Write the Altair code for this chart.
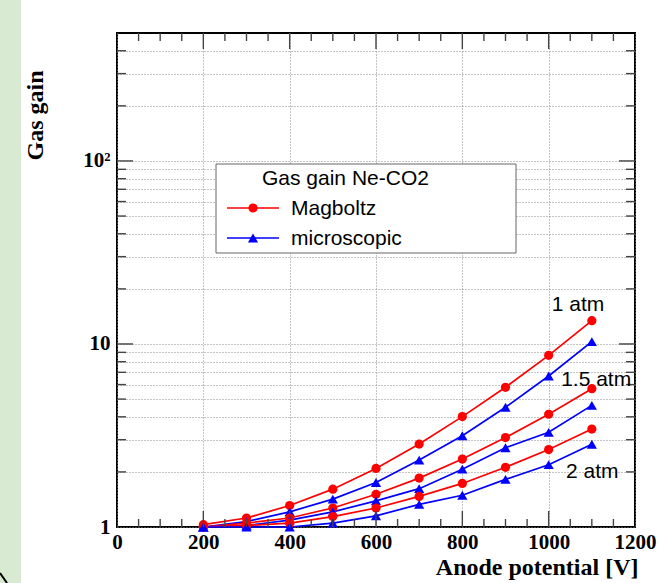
import altair as alt
import pandas as pd

# ---------------- data ----------------
V = [200, 300, 400, 500, 600, 700, 800, 900, 1000, 1100]
mag_1atm = [1.03, 1.12, 1.31, 1.61, 2.09, 2.84, 4.01, 5.80, 8.67, 13.4]
mic_1atm = [1.00, 1.07, 1.21, 1.42, 1.75, 2.32, 3.15, 4.51, 6.68, 10.3]
mag_15atm = [1.00, 1.05, 1.12, 1.27, 1.51, 1.85, 2.35, 3.08, 4.13, 5.70]
mic_15atm = [1.00, 1.02, 1.09, 1.21, 1.39, 1.62, 2.07, 2.71, 3.29, 4.62]
mag_2atm = [1.00, 1.02, 1.05, 1.14, 1.27, 1.47, 1.73, 2.12, 2.65, 3.43]
mic_2atm = [1.00, 1.00, 1.00, 1.05, 1.15, 1.33, 1.49, 1.82, 2.19, 2.83]

models = ["Magboltz", "microscopic"]
model_colors = ["#ff0000", "#0000ff"]
model_shapes = ["circle", "triangle-up"]
model_sizes = [85, 105]

press_labels = ["1 atm", "1.5 atm", "2 atm"]
press_label_x = [1068, 1110, 1101]
press_label_y = [16.3, 6.36, 2.0]

x_label_values = [0, 200, 400, 600, 800, 1000, 1200]
x_major_ticks = [200, 400, 600, 800, 1000]
x_minor_ticks = [v for v in range(50, 1200, 50) if v % 200 != 0]
y_major_ticks = [10, 100]
y_minor_ticks = [2, 3, 4, 5, 6, 7, 8, 9, 20, 30, 40, 50, 60, 70, 80, 90, 200, 300, 400]
y_grid = [1] + sorted(y_minor_ticks + y_major_ticks)

legend_title = "Gas gain Ne-CO2"

rows = []
for model, p, vals in [
    ("Magboltz", "1 atm", mag_1atm),
    ("microscopic", "1 atm", mic_1atm),
    ("Magboltz", "1.5 atm", mag_15atm),
    ("microscopic", "1.5 atm", mic_15atm),
    ("Magboltz", "2 atm", mag_2atm),
    ("microscopic", "2 atm", mic_2atm),
]:
    for v, g in zip(V, vals):
        rows.append({"V": v, "gain": g, "model": model, "series": model + " " + p})
df = pd.DataFrame(rows)

# ---------------- layout ----------------
W, H = 518, 494
serif = "Liberation Serif"
sans = "Liberation Sans"

xscale = alt.Scale(domain=[0, 1200], nice=False, zero=False)
yscale = alt.Scale(type="log", domain=[1, 500], nice=False)
cscale = alt.Scale(domain=models, range=model_colors)
sscale = alt.Scale(domain=models, range=model_shapes)
zscale = alt.Scale(domain=models, range=model_sizes)

grid_style = dict(grid=True, gridDash=[1, 2], gridColor="#888", gridWidth=1)

x_axis = alt.Axis(
    values=x_label_values, **grid_style,
    ticks=False, domain=False, format="d",
    labelFont=serif, labelFontWeight="bold", labelFontSize=21, labelColor="black",
    labelPadding=4, labelFlush=False, labelOverlap=False, labelBound=False,
    title="Anode potential [V]", titleFont=serif, titleFontSize=24, titleFontWeight="bold",
    titleColor="black", titleAnchor="end", titleAlign="right",
    titleX=521, titleY=47, titleBaseline="alphabetic",
)
y_axis = alt.Axis(
    values=y_grid, **grid_style,
    ticks=False, domain=False,
    labelExpr="datum.value == 1 ? '1' : datum.value == 10 ? '10' : datum.value == 100 ? '10\u00b2' : ''",
    labelFont=serif, labelFontWeight="bold", labelFontSize=21, labelColor="black",
    labelPadding=7, labelOverlap=False, labelBound=False, labelFlush=False,
    title="Gas gain", titleFont=serif, titleFontSize=24, titleFontWeight="bold",
    titleColor="black", titleAngle=-90, titleAnchor="end", titleAlign="right",
    titleX=-75, titleY=37, titleBaseline="alphabetic",
)

X = alt.X("V:Q", scale=xscale, axis=x_axis)
Y = alt.Y("gain:Q", scale=yscale, axis=y_axis)

base = alt.Chart(df).encode(
    x=X, y=Y,
    color=alt.Color("model:N", scale=cscale, legend=None),
)
lines = base.mark_line(strokeWidth=1.7).encode(detail="series:N")
points = base.mark_point(filled=True, opacity=1).encode(
    shape=alt.Shape("model:N", scale=sscale, legend=None),
    size=alt.Size("model:N", scale=zscale, legend=None),
)

# inside ticks (ROOT style)
tick_color = "#444"
xmaj = pd.DataFrame({"V": x_major_ticks})
xmin = pd.DataFrame({"V": x_minor_ticks})
ymaj = pd.DataFrame({"gain": y_major_ticks})
ymin = pd.DataFrame({"gain": y_minor_ticks})


def xtick(d, y0, y1):
    return alt.Chart(d).mark_rule(color=tick_color, strokeWidth=1.4).encode(
        x=X, y=alt.value(y0), y2=alt.value(y1)
    )


def ytick(d, x0, x1):
    return alt.Chart(d).mark_rule(color=tick_color, strokeWidth=1.4).encode(
        y=Y, x=alt.value(x0), x2=alt.value(x1)
    )


ticks = [
    xtick(xmaj, H, H - 16), xtick(xmin, H, H - 8),
    xtick(xmaj, 0, 16), xtick(xmin, 0, 8),
    ytick(ymaj, 0, 16), ytick(ymin, 0, 9),
    ytick(ymaj, W, W - 16), ytick(ymin, W, W - 9),
]

# pressure annotations
lab_df = pd.DataFrame({"label": press_labels, "V": press_label_x, "gain": press_label_y})
labels = alt.Chart(lab_df).mark_text(
    font=sans, fontSize=21, color="black", align="center", baseline="middle"
).encode(x=X, y=Y, text="label:N")

# legend box (ROOT TLegend style)
one = pd.DataFrame({"a": [0]})
leg_box = alt.Chart(one).mark_rect(fill="white", stroke="#666", strokeWidth=1).encode(
    x=alt.value(99), x2=alt.value(399), y=alt.value(131), y2=alt.value(220)
)
leg_title = alt.Chart(one).mark_text(
    font=sans, fontSize=21, color="black", align="left", baseline="middle", text=legend_title
).encode(x=alt.value(145), y=alt.value(146))

leg_items = []
for i, (m, c, s, z) in enumerate(zip(models, model_colors, model_shapes, model_sizes)):
    yy = 175 + 30 * i
    leg_items.append(
        alt.Chart(one).mark_rule(color=c, strokeWidth=1.7).encode(
            x=alt.value(110), x2=alt.value(162), y=alt.value(yy)
        )
    )
    leg_items.append(
        alt.Chart(one).mark_point(filled=True, size=z, color=c, shape=s, opacity=1).encode(
            x=alt.value(136), y=alt.value(yy)
        )
    )
    leg_items.append(
        alt.Chart(one).mark_text(
            font=sans, fontSize=21, color="black", align="left", baseline="middle", text=m
        ).encode(x=alt.value(174), y=alt.value(yy + 1))
    )

# canvas decorations (green side strip)
strip = alt.Chart(one).mark_rect(color="#d9ead3").encode(
    x=alt.value(-117), x2=alt.value(-96), y=alt.value(-33), y2=alt.value(H + 56)
)
corner = alt.Chart(one).mark_rule(color="black", strokeWidth=2).encode(
    x=alt.value(-117), x2=alt.value(-110), y=alt.value(H + 46), y2=alt.value(H + 56)
)

chart = alt.layer(
    lines, points, *ticks, labels, leg_box, leg_title, *leg_items, strip, corner
).properties(
    width=W, height=H,
    padding={"left": 117, "top": 33, "right": 24, "bottom": 56},
    autosize=alt.AutoSizeParams(type="none"),
    background="white",
).configure_view(stroke="black", strokeWidth=2)

chart.save("out.html", embed_options={"renderer": "svg", "actions": False})
